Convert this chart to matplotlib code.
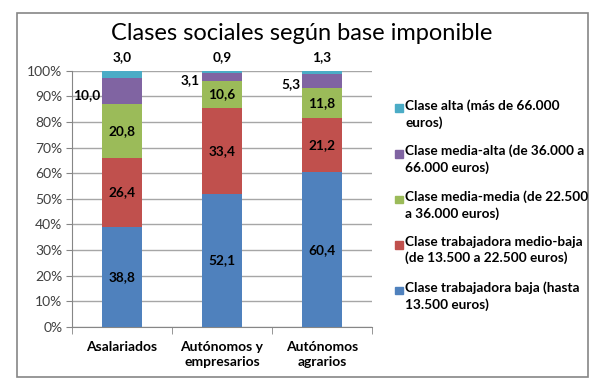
import numpy as np
import matplotlib.pyplot as plt
from matplotlib.patches import Rectangle

plt.rcParams['font.family'] = ['Lato', 'DejaVu Sans']

categories = ["Asalariados", "Autónomos y\nempresarios", "Autónomos\nagrarios"]
series_names = [
    "Clase trabajadora baja (hasta\n13.500 euros)",
    "Clase trabajadora medio-baja\n(de 13.500 a 22.500 euros)",
    "Clase media-media (de 22.500\na 36.000 euros)",
    "Clase media-alta (de 36.000 a\n66.000 euros)",
    "Clase alta (más de 66.000\neuros)",
]
baja = [38.8, 52.1, 60.4]
medio_baja = [26.4, 33.4, 21.2]
media_media = [20.8, 10.6, 11.8]
media_alta = [10.0, 3.1, 5.3]
alta = [3.0, 0.9, 1.3]
colors = ["#4F81BD", "#C0504D", "#9BBB59", "#8064A2", "#4BACC6"]

data = np.array([baja, medio_baja, media_media, media_alta, alta])
totals = data.sum(axis=0)
pct = data / totals * 100

W, H = 604, 389
fig = plt.figure(figsize=(W / 100, H / 100), dpi=100)
fig.patches.append(Rectangle((17 / W, 1 - 377 / H), 571 / W, 364 / H,
                             transform=fig.transFigure, fill=False,
                             edgecolor="#868686", linewidth=1.2))

ax = fig.add_axes([72 / W, 1 - 327 / H, 300 / W, 256.3 / H])
x = np.arange(len(categories))
bw = 0.4
bottom = np.zeros(len(categories))
for i in range(len(series_names)):
    ax.bar(x, pct[i], bw, bottom=bottom, color=colors[i], zorder=3)
    for j in range(len(categories)):
        mid = bottom[j] + pct[i][j] / 2
        lab = f"{data[i][j]:.1f}".replace(".", ",")
        if i <= 2:
            ax.text(x[j], mid, lab, ha="center", va="center",
                    fontsize=9.8, fontweight="bold", zorder=4)
        elif i == 3:
            ax.text(x[j] - bw / 2 - 0.02, mid - 1.3, lab, ha="right",
                    va="center", fontsize=9.8, fontweight="bold")
        else:
            ax.text(x[j], 105.3, lab, ha="center", va="center",
                    fontsize=9.8, fontweight="bold", clip_on=False)
    bottom += pct[i]

ax.set_xlim(-0.5, 2.5)
ax.set_ylim(0, 100)
ax.set_yticks(np.arange(0, 101, 10))
ax.set_yticklabels([f"{v}%" for v in range(0, 101, 10)], fontsize=10,
                   color="#404040")
ax.yaxis.grid(True, color="#A6A6A6", linewidth=1, zorder=0)
ax.set_xticks(x)
ax.set_xticklabels(categories, fontsize=10, fontweight="bold", linespacing=1.3)
ax.set_xticks([-0.5, 0.5, 1.5, 2.5], minor=True)
ax.tick_params(axis="x", which="major", length=0, pad=10)
ax.tick_params(axis="x", which="minor", length=5, color="#868686")
ax.tick_params(axis="y", length=4, color="#868686", pad=3)
for s in ["top", "right"]:
    ax.spines[s].set_visible(False)
for s in ["left", "bottom"]:
    ax.spines[s].set_color("#868686")

fig.text(0.5, 1 - 33 / H, "Clases sociales según base imponible",
         ha="center", va="center", fontsize=17)

# legend, top entry first
for k, i in enumerate(range(len(series_names) - 1, -1, -1)):
    y_top = 108 + k * 45.5
    fig.patches.append(Rectangle((395 / W, 1 - (y_top + 4) / H), 7.5 / W, 7.5 / H,
                                 transform=fig.transFigure, color=colors[i]))
    fig.text(405 / W, 1 - (y_top - 9) / H, series_names[i], ha="left", va="top",
             fontsize=9.8, fontweight="bold", linespacing=1.4)

fig.savefig("out.png", dpi=100)
